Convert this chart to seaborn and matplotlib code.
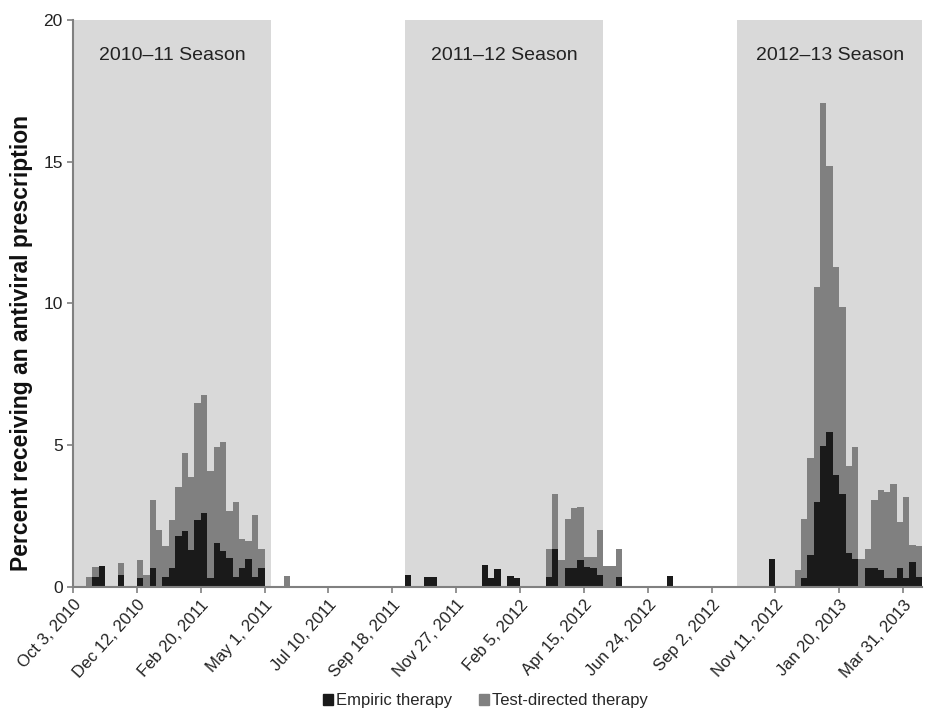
import numpy as np
import pandas as pd
import matplotlib
matplotlib.use("Agg")
import matplotlib.pyplot as plt
from matplotlib.patches import Patch
import seaborn as sns

# Weekly share of visits with an antiviral prescription (only non-zero weeks listed)
weeks = [2, 3, 4, 7, 10, 11, 12, 13, 14, 15, 16, 17, 18, 19, 20, 21, 22, 23, 24, 25,
         26, 27, 28, 29, 33, 52, 55, 56, 64, 65, 66, 68, 69, 74, 75, 76, 77, 78, 79, 80,
         81, 82, 83, 84, 85, 93, 109, 113, 114, 115, 116, 117, 118, 119, 120, 121, 122,
         123, 124, 125, 126, 127, 128, 129, 130, 131, 132]
empiric = [0, 0.33, 0.75, 0.41, 0.31, 0, 0.68, 0, 0.35, 0.68, 1.79, 1.97, 1.30, 2.35, 2.59,
           0.30, 1.55, 1.27, 1.00, 0.33, 0.65, 0.97, 0.36, 0.68, 0, 0.40, 0.35, 0.35, 0.77,
           0.32, 0.64, 0.37, 0.32, 0.33, 1.32, 0, 0.68, 0.68, 0.94, 0.71, 0.68, 0.40, 0, 0,
           0.33, 0.37, 0.98, 0, 0.32, 1.12, 3.00, 4.97, 5.47, 3.94, 3.27, 1.21, 0.97, 0,
           0.67, 0.67, 0.61, 0.32, 0.32, 0.65, 0.30, 0.88, 0.35]
test_directed = [0.33, 0.37, 0, 0.43, 0.64, 0.40, 2.40, 1.99, 1.09, 1.67, 1.74, 2.74, 2.58,
                 4.15, 4.19, 3.80, 3.39, 3.83, 1.67, 2.65, 1.02, 0.65, 2.16, 0.65, 0.38, 0,
                 0, 0, 0, 0, 0, 0, 0, 0.99, 1.96, 0.93, 1.70, 2.11, 1.88, 0.35, 0.37, 1.60,
                 0.74, 0.74, 1.01, 0, 0, 0.61, 2.06, 3.41, 7.57, 12.09, 9.38, 7.36, 6.61,
                 3.06, 3.95, 0.99, 0.67, 2.39, 2.80, 3.03, 3.30, 1.62, 2.88, 0.59, 1.10]
n_weeks = 133

tick_labels = ["Oct 3, 2010", "Dec 12, 2010", "Feb 20, 2011", "May 1, 2011", "Jul 10, 2011",
               "Sep 18, 2011", "Nov 27, 2011", "Feb 5, 2012", "Apr 15, 2012", "Jun 24, 2012",
               "Sep 2, 2012", "Nov 11, 2012", "Jan 20, 2013", "Mar 31, 2013"]
seasons = ["2010\u201311 Season", "2011\u201312 Season", "2012\u201313 Season"]
season_start = [0, 52, 104]
season_end = [31, 83, 133]

df = pd.DataFrame({"week": weeks, "empiric": empiric, "test": test_directed})
df = df.set_index("week").reindex(range(n_weeks), fill_value=0).reset_index()
df["total"] = df["empiric"] + df["test"]

sns.set_style("white")
plt.rcParams["font.family"] = ["Liberation Sans", "DejaVu Sans"]

fig = plt.figure(figsize=(9.25, 7.13), dpi=100)
ax = fig.add_axes([0.079, 0.177, 0.918, 0.795])

# season shading
for name, s, e in zip(seasons, season_start, season_end):
    ax.axvspan(s - 0.5, e - 0.5, color="#d9d9d9", zorder=0, lw=0)
    ax.text((s + e) / 2 - 0.5, 18.75, name, ha="center", va="center",
            fontsize=14, color="#222222")

sns.barplot(data=df, x="week", y="total", color="#808080", width=1,
            linewidth=0, saturation=1, errorbar=None, ax=ax)
sns.barplot(data=df, x="week", y="empiric", color="#1a1a1a", width=1,
            linewidth=0, saturation=1, errorbar=None, ax=ax)

ax.set_xlim(-0.5, n_weeks - 0.5)
ax.set_ylim(0, 20)
ax.set_yticks([0, 5, 10, 15, 20])
ax.set_xticks(np.arange(0, 140, 10) - 0.5)
ax.set_xticklabels(tick_labels, rotation=48, ha="right", rotation_mode="anchor",
                   fontsize=12, color="#222222")
ax.tick_params(axis="y", labelsize=12.5, labelcolor="#222222")
ax.tick_params(direction="out", length=4, width=1.2, color="#808080", bottom=True, left=True)
ax.set_xlabel("")
ax.set_ylabel("Percent receiving an antiviral prescription", fontsize=16.5,
              fontweight="bold", color="#111111")
ax.yaxis.set_label_coords(-0.047, 0.43)

sns.despine(ax=ax)
for side in ["left", "bottom"]:
    ax.spines[side].set_color("#808080")
    ax.spines[side].set_linewidth(1.5)

handles = [Patch(color="#1a1a1a", label="Empiric therapy"),
           Patch(color="#808080", label="Test-directed therapy")]
fig.legend(handles=handles, loc="center", bbox_to_anchor=(0.525, 0.017), ncol=2,
           frameon=False, fontsize=12, handlelength=0.6, handleheight=0.6,
           handletextpad=0.2, columnspacing=1.6)

fig.savefig("out.png", dpi=100)
